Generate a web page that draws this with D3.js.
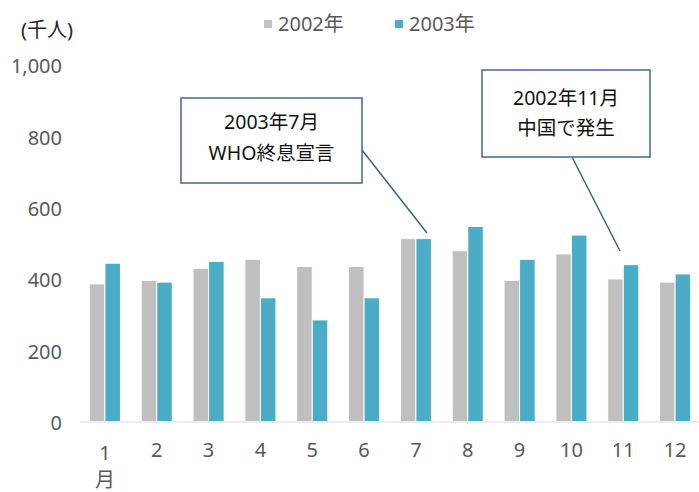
<!DOCTYPE html>
<html>
<head>
<meta charset="utf-8">
<script src="https://cdn.jsdelivr.net/npm/d3@7"></script>
<style>
  html, body { margin: 0; padding: 0; background: #fff; }
  svg { display: block; }
</style>
</head>
<body>
<svg id="chart" width="699" height="492"></svg>
<script>
const months = ["1", "2", "3", "4", "5", "6", "7", "8", "9", "10", "11", "12"];
const seriesNames = ["2002年", "2003年"];
const values2002 = [386, 396, 430, 455, 435, 435, 513, 479, 396, 470, 400, 391];
const values2003 = [444, 391, 449, 347, 285, 347, 513, 547, 455, 523, 440, 414];
const yTicks = [0, 200, 400, 600, 800, 1000];
const colors = ["#bfbfbf", "#4bacc6"];
const unitLabel = "(千人)";
const monthSuffix = "月";
const callouts = [
  { lines: ["2003年7月", "WHO終息宣言"], month: "7", series: 1 },
  { lines: ["2002年11月", "中国で発生"], month: "11", series: 1 }
];

const svg = d3.select("#chart");
const font = '"Noto Sans", "Noto Sans CJK JP", sans-serif';
const textColor = "#595959";
const fs = 20;

const x = d3.scaleBand().domain(months).range([79, 701]).paddingInner(0.4).paddingOuter(0.2);
const xs = d3.scaleBand().domain([0, 1]).range([0, x.bandwidth()]);
const y = d3.scaleLinear().domain([0, 1000]).range([421.5, 65]);

// bars
const data = months.map((m, i) => ({ m, v: [values2002[i], values2003[i]] }));
const groups = svg.append("g").selectAll("g").data(data).join("g")
  .attr("transform", d => `translate(${x(d.m)},0)`);
groups.selectAll("rect").data(d => d.v.map((v, s) => ({ v, s }))).join("rect")
  .attr("x", d => xs(d.s))
  .attr("width", xs.bandwidth())
  .attr("y", d => y(d.v))
  .attr("height", d => y(0) - y(d.v))
  .attr("fill", d => colors[d.s])
  .attr("stroke", "#fff")
  .attr("stroke-width", 1);

// x axis line
svg.append("line").attr("x1", 80).attr("x2", 699).attr("y1", y(0) + 0.5).attr("y2", y(0) + 0.5)
  .attr("stroke", "#d9d9d9").attr("stroke-width", 1.2);

// y axis labels
const yAxis = d3.axisLeft(y).tickValues(yTicks).tickFormat(d3.format(",")).tickSize(0).tickPadding(0);
const yg = svg.append("g").attr("transform", "translate(62,1.5)").call(yAxis);
yg.select(".domain").remove();
yg.selectAll("text").attr("font-family", font).attr("font-size", fs).attr("fill", textColor);

// x axis labels
const xAxis = d3.axisBottom(x).tickSize(0).tickPadding(0);
const xg = svg.append("g").call(xAxis);
xg.select(".domain").remove();
xg.selectAll("text")
  .attr("font-family", font).attr("font-size", fs).attr("fill", textColor)
  .attr("dy", null)
  .attr("y", d => d === "1" ? 460 : 457);
svg.append("text").attr("x", x("1") + x.bandwidth() / 2).attr("y", 487)
  .attr("text-anchor", "middle").attr("font-family", font).attr("font-size", fs)
  .attr("fill", textColor).text(monthSuffix);

// unit label
svg.append("text").attr("x", 21).attr("y", 37).attr("font-family", font).attr("font-size", fs)
  .attr("fill", "#262626").text(unitLabel);

// legend
const legendX = [264, 395];
seriesNames.forEach((n, i) => {
  svg.append("rect").attr("x", legendX[i]).attr("y", 20).attr("width", 8).attr("height", 8).attr("fill", colors[i]);
  svg.append("text").attr("x", legendX[i] + 14).attr("y", 31).attr("font-family", font)
    .attr("font-size", fs).attr("fill", textColor).text(n);
});

// callouts
const boxes = [
  { x: 181, y: 98, w: 181, h: 85, ly: [129, 160], lineFrom: [362, 150], lineTo: [427, 233] },
  { x: 482, y: 70, w: 168, h: 87, ly: [105, 135], lineFrom: [572, 157], lineTo: [620, 251] }
];
callouts.forEach((c, i) => {
  const b = boxes[i];
  svg.append("line").attr("x1", b.lineFrom[0]).attr("y1", b.lineFrom[1])
    .attr("x2", b.lineTo[0]).attr("y2", b.lineTo[1])
    .attr("stroke", "#3c5f8e").attr("stroke-width", 1.5);
  svg.append("rect").attr("x", b.x).attr("y", b.y).attr("width", b.w).attr("height", b.h)
    .attr("fill", "#fff").attr("stroke", "#41659a").attr("stroke-width", 1.5);
  c.lines.forEach((t, j) => {
    svg.append("text").attr("x", b.x + b.w / 2).attr("y", b.ly[j]).attr("text-anchor", "middle")
      .attr("font-family", font).attr("font-size", 19.5)
      .attr("fill", "#111").text(t);
  });
});
</script>
</body>
</html>
